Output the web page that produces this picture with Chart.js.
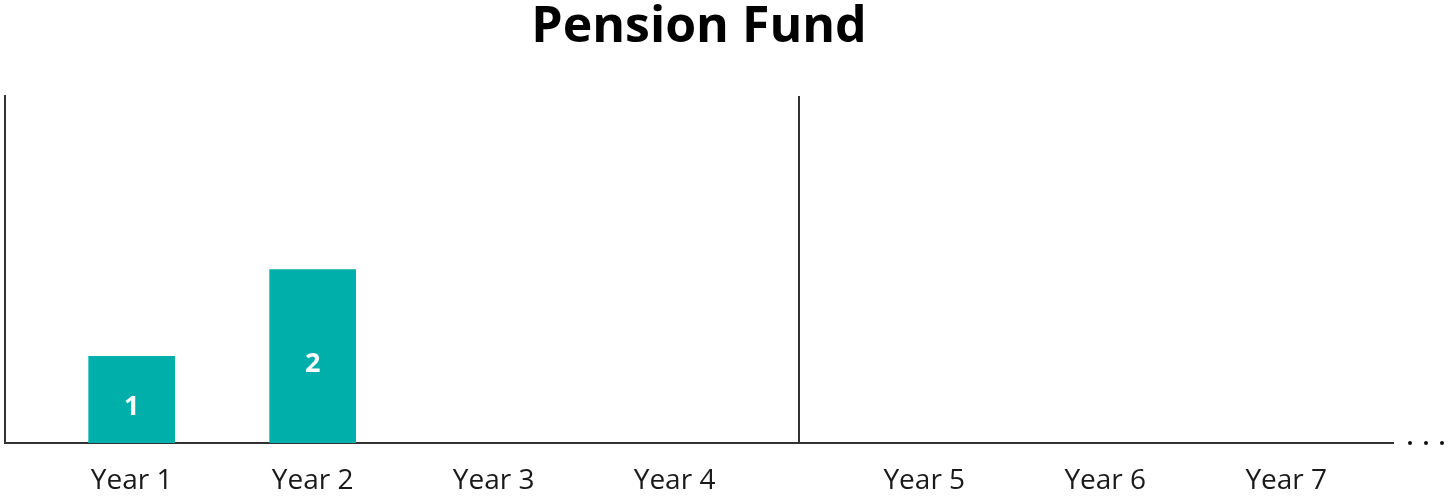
<!DOCTYPE html>
<html>
<head>
<meta charset="utf-8">
<script src="https://cdn.jsdelivr.net/npm/chart.js@4/dist/chart.umd.min.js"></script>
<style>
  html, body { margin: 0; padding: 0; background: #fff; }
  #wrap { width: 1448px; height: 497px; position: relative; }
</style>
</head>
<body>
<div id="wrap"><canvas id="fundChart"></canvas></div>
<script>
// --- Data ---
const years = ['Year 1', 'Year 2', 'Year 3', 'Year 4', 'Year 5', 'Year 6', 'Year 7'];
const fundValues = [1, 2, null, null, null, null, null];

// --- Layout: years 1-4 and 5-7 sit in two panels with a divider ---
const firstPanelCount = 4;
const panelGap = 0.38;     // extra space (in slots) before the second panel
const dividerAt = 3.69;    // divider position on the x scale
const xMin = -0.7;
const xMax = 6.97;

const barColor = '#00AFAA';
const axisColor = '#333333';

// slot position of each year on the linear x axis
const slotOf = i => i < firstPanelCount ? i : i + panelGap;

const points = years.map((y, i) => ({ x: slotOf(i), y: fundValues[i] }));

// divider line + trailing dots
const extrasPlugin = {
    id: 'extras',
    afterDraw(chart) {
        const { ctx, chartArea, scales } = chart;
        const x = Math.round(scales.x.getPixelForValue(dividerAt));
        ctx.save();
        ctx.strokeStyle = axisColor;
        ctx.lineWidth = 2;
        ctx.beginPath();
        ctx.moveTo(x, chartArea.top);
        ctx.lineTo(x, chartArea.bottom);
        ctx.stroke();

        ctx.fillStyle = '#111';
        [17, 33, 49].forEach(dx => {
            ctx.beginPath();
            ctx.arc(chartArea.right + dx, chartArea.bottom, 2, 0, Math.PI * 2);
            ctx.fill();
        });
        ctx.restore();
    }
};

// value labels inside bars
const barLabelsPlugin = {
    id: 'barLabels',
    afterDatasetsDraw(chart) {
        const { ctx } = chart;
        const meta = chart.getDatasetMeta(0);
        ctx.save();
        ctx.fillStyle = '#fff';
        ctx.font = 'bold 27px "Open Sans"';
        ctx.textAlign = 'center';
        ctx.textBaseline = 'middle';
        meta.data.forEach((bar, i) => {
            const v = fundValues[i];
            if (v == null) return;
            const cy = (bar.y + bar.base) / 2 + 8;
            ctx.fillText(String(v), bar.x, cy);
        });
        ctx.restore();
    }
};

new Chart(document.getElementById('fundChart'), {
    type: 'bar',
    data: {
        datasets: [{
            data: points,
            backgroundColor: barColor,
            barThickness: 86,
            borderWidth: 0
        }]
    },
    options: {
        responsive: true,
        maintainAspectRatio: false,
        animation: false,
        events: [],
        layout: { padding: { left: 5, right: 55, top: 0, bottom: 0 } },
        plugins: {
            legend: { display: false },
            tooltip: { enabled: false },
            title: {
                display: true,
                text: 'Pension Fund',
                color: '#000',
                font: { family: 'Open Sans', size: 50, weight: 'bold', lineHeight: 1.1 },
                padding: { top: 0, bottom: 41 }
            }
        },
        scales: {
            x: {
                type: 'linear',
                offset: false,
                min: xMin,
                max: xMax,
                grid: { display: false, drawTicks: false },
                border: { display: true, color: axisColor, width: 2 },
                afterBuildTicks: scale => {
                    scale.ticks = years.map((y, i) => ({ value: slotOf(i) }));
                },
                afterFit: scale => { scale.height = 54; },
                ticks: {
                    autoSkip: false,
                    maxRotation: 0,
                    padding: 21,
                    color: '#1a1a1a',
                    font: { family: 'Open Sans', size: 28 },
                    callback: (value, index) => years[index]
                }
            },
            y: {
                min: 0,
                max: 4,
                grid: { display: false, drawTicks: false },
                border: { display: true, color: axisColor, width: 2 },
                ticks: { display: false }
            }
        }
    },
    plugins: [extrasPlugin, barLabelsPlugin]
});
</script>
</body>
</html>
